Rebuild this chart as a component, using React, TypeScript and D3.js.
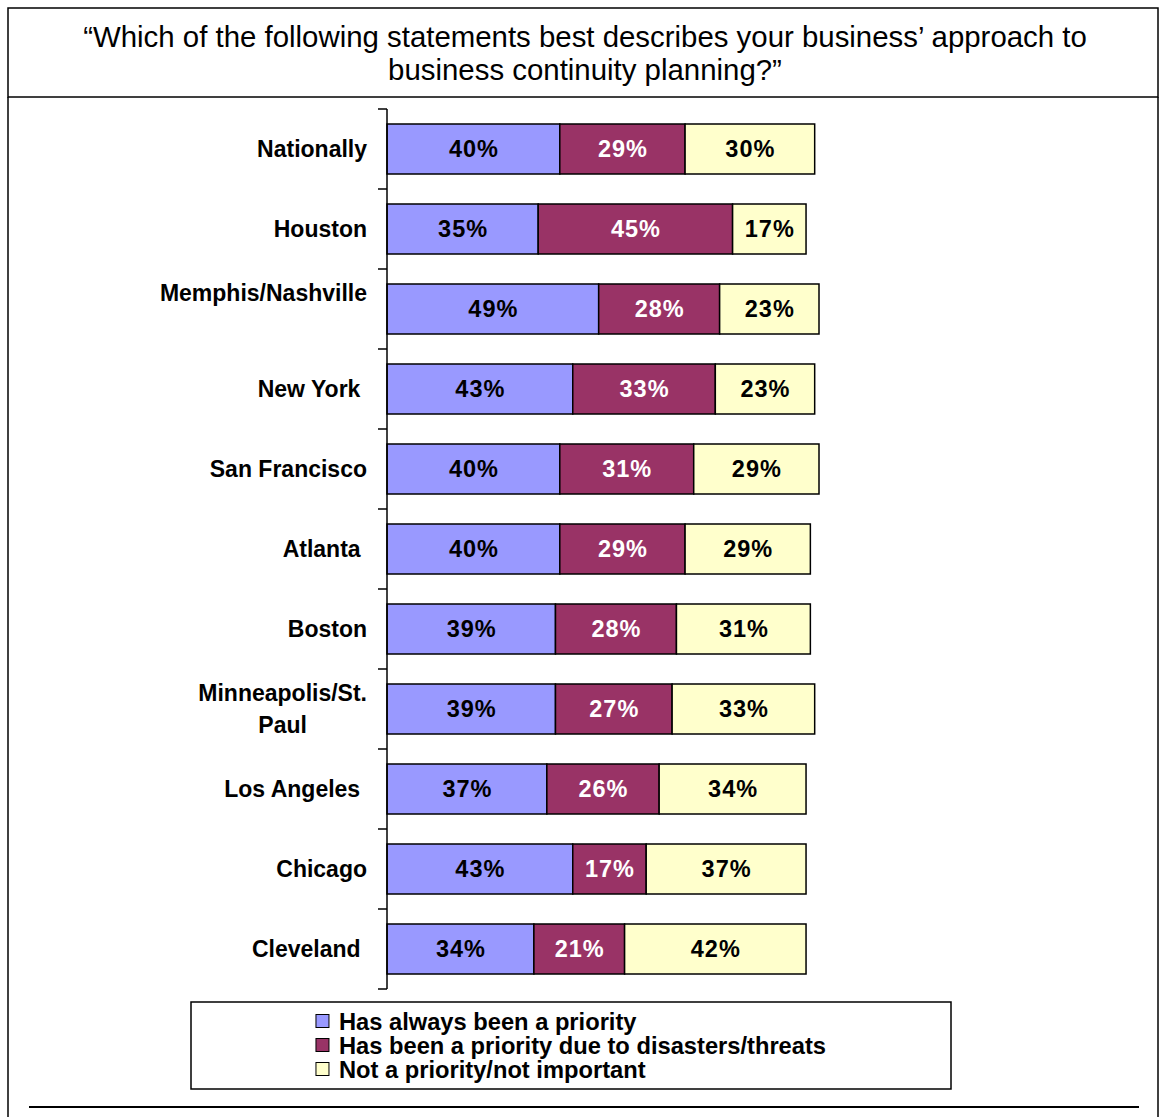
import React from "react";
import * as d3 from "d3";

// survey answers, one row per market (percent)
const categories = [
	"Nationally",
	"Houston",
	"Memphis/Nashville",
	"New York",
	"San Francisco",
	"Atlanta",
	"Boston",
	"Minneapolis/St. Paul",
	"Los Angeles",
	"Chicago",
	"Cleveland",
];

// label lines as they wrap in the original (trailing spaces kept)
const labelLines = [
	["Nationally"],
	["Houston"],
	["Memphis/Nashville", ""],
	["New York "],
	["San Francisco"],
	["Atlanta "],
	["Boston"],
	["Minneapolis/St.", "Paul"],
	["Los Angeles "],
	["Chicago"],
	["Cleveland "],
];

const alwaysPriority = [40, 35, 49, 43, 40, 40, 39, 39, 37, 43, 34];
const disasterPriority = [29, 45, 28, 33, 31, 29, 28, 27, 26, 17, 21];
const notPriority = [30, 17, 23, 23, 29, 29, 31, 33, 34, 37, 42];

const seriesNames = [
	"Has always been a priority",
	"Has been a priority due to disasters/threats",
	"Not a priority/not important",
];
const seriesColors = ["#9999FF", "#993366", "#FFFFCC"];
const labelColors = ["#000000", "#FFFFFF", "#000000"];

const titleLines = [
	"\u201CWhich of the following statements best describes your business\u2019 approach to",
	"business continuity planning?\u201D",
];

const FONT = "'Liberation Sans', Arial, Helvetica, sans-serif";

let canvasCtx: CanvasRenderingContext2D | null = null;
function measure(text: string, font: string) {
	if (!canvasCtx) canvasCtx = document.createElement("canvas").getContext("2d");
	if (!canvasCtx) return text.length * 12;
	canvasCtx.font = font;
	return canvasCtx.measureText(text).width;
}

export default function App() {
	const width = 1160;
	const height = 1117;
	const axisX = 387;
	const plotTop = 109;
	const plotBottom = 989;
	const labelRight = 367;

	const rows = categories.map((c, i) => ({
		category: c,
		s0: alwaysPriority[i],
		s1: disasterPriority[i],
		s2: notPriority[i],
	}));
	const keys = ["s0", "s1", "s2"];
	const stacked = d3.stack<any>().keys(keys)(rows);

	const x = d3.scaleLinear().domain([0, 100]).range([axisX, 819]);
	const y = d3
		.scaleBand()
		.domain(categories)
		.range([plotTop, plotBottom])
		.paddingInner(0.375)
		.paddingOuter(0.1875);
	const step = y.step();
	const tickYs = d3.range(categories.length + 1).map((i) => plotTop + i * step);

	const catFont = `bold 23px ${FONT}`;
	const legendFont = `bold 23.7px ${FONT}`;

	// legend block centred in its box
	const legend = { x0: 191, x1: 951, y0: 1002, y1: 1089 };
	const legendTextW = d3.max(seriesNames, (s) => measure(s, legendFont)) || 0;
	const legendBlockW = 23 + legendTextW;
	const legendLeft = (legend.x0 + legend.x1) / 2 - legendBlockW / 2;
	const legendRowH = 24;
	const legendMidY = (legend.y0 + legend.y1) / 2;

	return (
		<svg
			width={width}
			height={height}
			style={{ position: "absolute", left: 0, top: 0, background: "#fff" }}
			fontFamily={FONT}
		>
			{/* title box */}
			<rect x={8} y={8} width={1150} height={89} fill="none" stroke="#000" strokeWidth={1.5} />
			{titleLines.map((t, i) => (
				<text key={i} x={585} y={47 + i * 33} textAnchor="middle" fontSize={29.4} fill="#000">
					{t}
				</text>
			))}

			{/* frame sides and footer rule */}
			<line x1={8} x2={8} y1={97} y2={height} stroke="#000" strokeWidth={1.5} />
			<line x1={1158} x2={1158} y1={97} y2={height} stroke="#000" strokeWidth={1.5} />
			<line x1={29} x2={1139} y1={1107} y2={1107} stroke="#000" strokeWidth={2} />

			{/* bars */}
			{stacked.map((layer, si) => (
				<g key={layer.key}>
					{layer.map((d, i) => {
						const yy = y(categories[i]) || 0;
						const x0 = x(d[0]);
						const x1 = x(d[1]);
						return (
							<g key={i}>
								<rect
									x={x0}
									y={yy}
									width={x1 - x0}
									height={y.bandwidth()}
									fill={seriesColors[si]}
									stroke="#000"
									strokeWidth={1.5}
								/>
								<text
									x={(x0 + x1) / 2 + 0.5}
									y={yy + y.bandwidth() / 2}
									dy="0.36em"
									textAnchor="middle"
									fontSize={23.5}
									fontWeight="bold"
									letterSpacing={1}
									fill={labelColors[si]}
								>
									{`${d[1] - d[0]}%`}
								</text>
							</g>
						);
					})}
				</g>
			))}

			{/* category axis */}
			<g>
				<line x1={axisX} x2={axisX} y1={plotTop} y2={plotBottom} stroke="#000" strokeWidth={1.5} />
				{tickYs.map((t, i) => (
					<line key={i} x1={axisX - 9} x2={axisX} y1={t} y2={t} stroke="#000" strokeWidth={1.5} />
				))}
				{categories.map((c, i) => {
					const lines = labelLines[i];
					const blockW = d3.max(lines, (l) => measure(l, catFont)) || 0;
					const cx = labelRight - blockW / 2;
					const cy = (y(c) || 0) + y.bandwidth() / 2;
					const lh = 32;
					return (
						<g key={c}>
							{lines.map((l, j) => (
								<text
									key={j}
									x={cx}
									y={cy + (j - (lines.length - 1) / 2) * lh}
									dy="0.36em"
									textAnchor="middle"
									fontSize={23}
									fontWeight="bold"
									fill="#000"
									style={{ whiteSpace: "pre" }}
								>
									{l}
								</text>
							))}
						</g>
					);
				})}
			</g>

			{/* legend */}
			<rect
				x={legend.x0}
				y={legend.y0}
				width={legend.x1 - legend.x0}
				height={legend.y1 - legend.y0}
				fill="#fff"
				stroke="#000"
				strokeWidth={1.5}
			/>
			{seriesNames.map((s, i) => {
				const cy = legendMidY + (i - 1) * legendRowH;
				return (
					<g key={s}>
						<rect
							x={legendLeft}
							y={cy - 7}
							width={13}
							height={13}
							fill={seriesColors[i]}
							stroke="#000"
							strokeWidth={1}
						/>
						<text
							x={legendLeft + 23}
							y={cy}
							dy="0.36em"
							fontSize={23.7}
							fontWeight="bold"
							fill="#000"
						>
							{s}
						</text>
					</g>
				);
			})}
		</svg>
	);
}
